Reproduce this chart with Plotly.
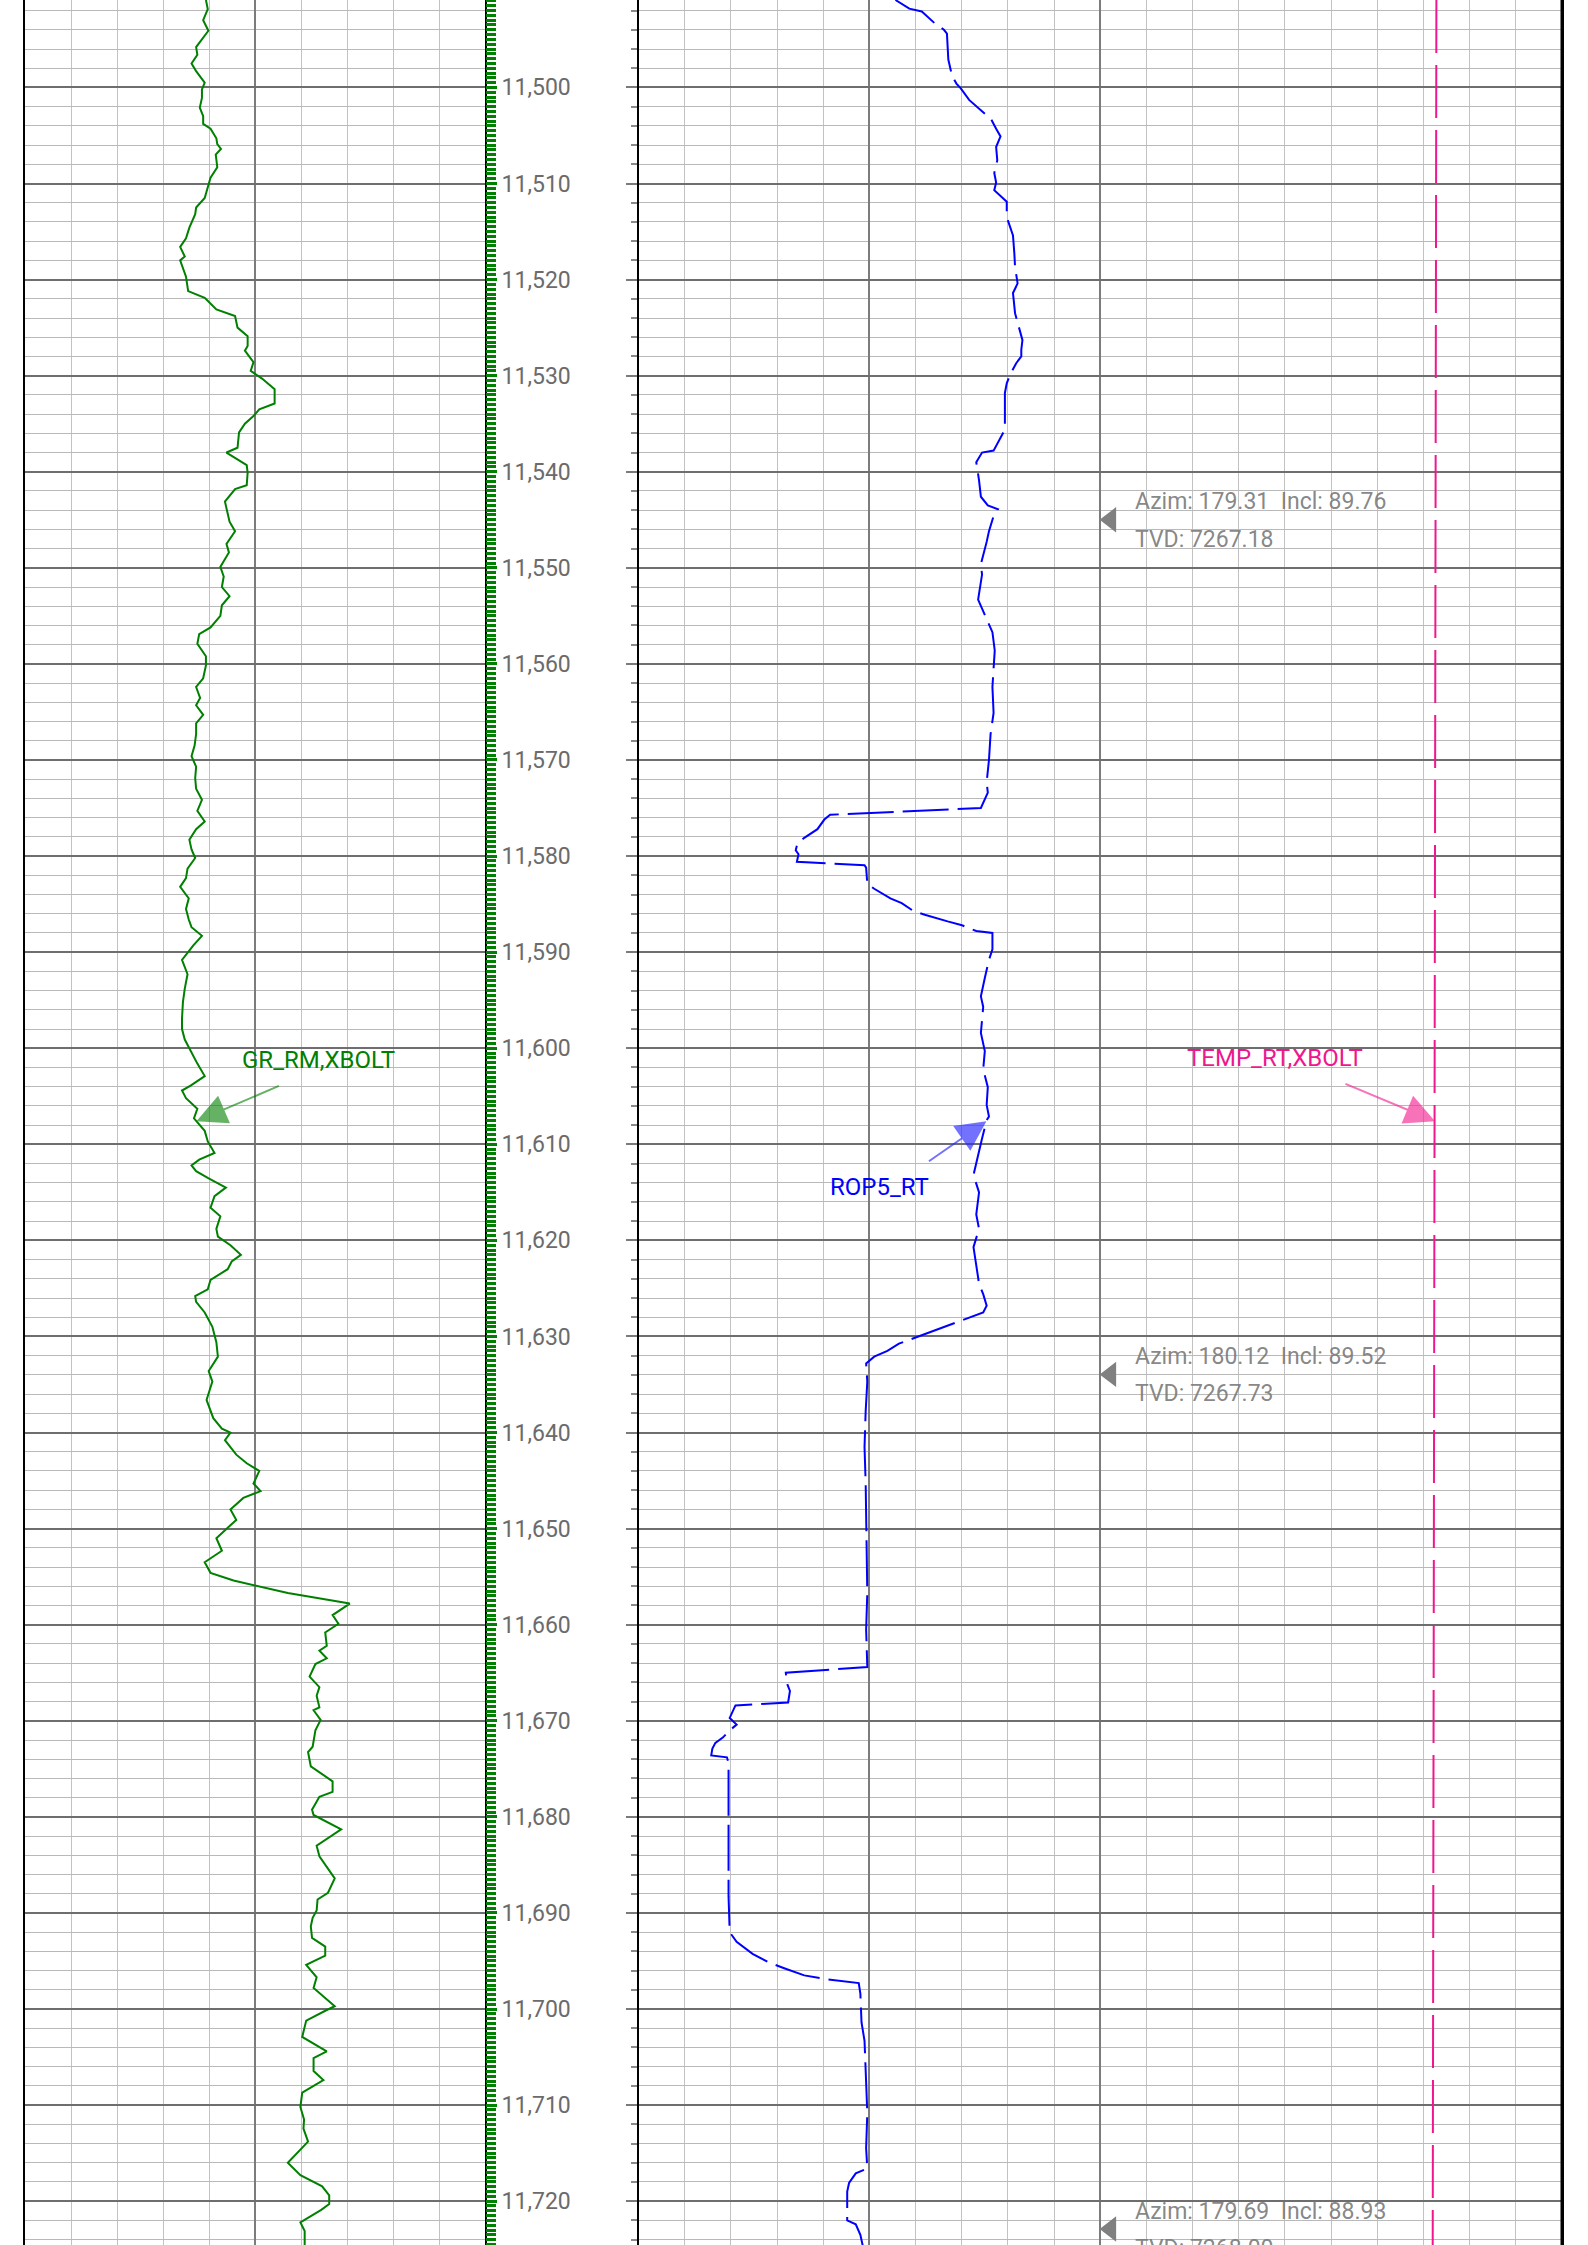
import numpy as np
import plotly.graph_objects as go

# ---------------- data ----------------
GR_DEPTH = [11490.9, 11491.85, 11493.0, 11494.1, 11495.8, 11496.6, 11497.5, 11498.3, 11499.5, 11500.2,
            11501.1, 11502.1, 11503.0, 11503.8, 11504.3, 11505.3, 11505.9, 11506.4, 11507.0, 11508.3,
            11509.4, 11510.0, 11511.5, 11512.5, 11513.2, 11514.6, 11515.7, 11516.6, 11517.6, 11518.0,
            11519.7, 11521.2, 11521.9, 11522.3, 11523.1, 11523.8, 11525.0, 11525.9, 11526.9, 11527.4,
            11528.6, 11529.5, 11529.9, 11530.3, 11531.4, 11532.9, 11533.5, 11534.2, 11535.0, 11535.9,
            11537.5, 11538.0, 11539.3, 11540.1, 11541.4, 11541.8, 11543.1, 11544.3, 11545.2, 11546.2,
            11547.5, 11548.4, 11549.9, 11550.9, 11552.0, 11552.95, 11553.9, 11555.0, 11556.2, 11556.9,
            11557.9, 11559.2, 11560.15, 11561.5, 11562.4, 11563.55, 11564.3, 11565.3, 11566.2, 11567.3,
            11568.5, 11569.6, 11570.7, 11571.9, 11573.0, 11574.15, 11575.3, 11576.4, 11577.2, 11578.3,
            11579.3, 11580.2, 11581.3, 11582.3, 11583.2, 11584.4, 11585.5, 11586.6, 11587.4, 11588.3,
            11589.3, 11590.8, 11592.3, 11593.8, 11595.2, 11596.9, 11598.0, 11599.1, 11600.3, 11601.6,
            11602.9, 11603.9, 11604.4, 11605.2, 11606.3, 11607.3, 11608.6, 11609.7, 11610.9, 11611.6,
            11612.2, 11612.8, 11613.5, 11614.5, 11615.4, 11616.6, 11617.5, 11618.3, 11618.8, 11619.6,
            11620.5, 11621.5, 11622.2, 11623.0, 11623.6, 11624.1, 11625.1, 11625.8, 11626.4, 11627.5,
            11629.0, 11630.6, 11632.1, 11633.6, 11634.7, 11636.6, 11638.5, 11639.6, 11640.0, 11640.8,
            11642.3, 11643.2, 11644.0, 11645.3, 11646.1, 11646.8, 11648.0, 11649.1, 11649.9, 11651.0,
            11652.3, 11653.5, 11654.6, 11655.4, 11656.7, 11657.8, 11659.0, 11659.9, 11660.8, 11662.2,
            11662.7, 11663.5, 11664.1, 11665.4, 11666.5, 11667.4, 11668.6, 11668.9, 11669.9, 11671.0,
            11672.7, 11673.25, 11674.75, 11676.3, 11677.4, 11677.9, 11679.25, 11679.8, 11681.3, 11681.9,
            11683.0, 11684.1, 11685.6, 11686.4, 11687.9, 11688.6, 11689.75, 11690.5, 11691.4, 11692.6,
            11693.5, 11694.45, 11695.4, 11696.7, 11697.8, 11698.8, 11699.7, 11700.1, 11701.2, 11702.9,
            11704.4, 11705.1, 11706.45, 11707.4, 11708.7, 11710.2, 11711.5, 11712.45, 11713.8, 11716.0,
            11717.3, 11718.45, 11719.4, 11720.3, 11720.9, 11722.2, 11723.1, 11724.6]
GR_API = [59.0, 59.6, 58.1, 59.8, 55.8, 56.2, 54.3, 55.8, 58.6, 57.7,
          57.7, 57.0, 58.1, 58.1, 60.5, 62.4, 62.7, 63.9, 62.2, 62.7,
          60.5, 59.9, 58.6, 55.8, 55.5, 53.6, 52.5, 50.6, 52.1, 50.6,
          52.5, 53.2, 58.6, 59.9, 62.4, 68.5, 69.3, 72.6, 72.6, 71.7,
          74.5, 73.6, 75.4, 77.3, 81.4, 81.4, 76.4, 74.5, 71.7, 69.8,
          69.3, 65.7, 72.3, 72.6, 72.3, 68.5, 65.2, 66.1, 66.7, 68.5,
          65.7, 66.5, 63.7, 64.8, 64.2, 66.7, 64.2, 63.7, 60.5, 56.8,
          56.2, 59.0, 59.0, 58.1, 55.8, 57.1, 55.8, 58.1, 55.8, 55.8,
          55.3, 54.3, 55.8, 55.5, 55.8, 57.7, 56.2, 58.6, 55.8, 53.6,
          54.3, 55.5, 53.0, 52.5, 50.6, 53.4, 52.5, 53.4, 54.3, 57.7,
          54.9, 51.2, 53.0, 52.1, 51.5, 51.2, 51.2, 52.1, 54.0, 56.2,
          58.6, 54.0, 51.2, 52.5, 56.2, 55.1, 58.6, 59.6, 61.8, 56.8,
          54.3, 55.8, 59.6, 65.5, 61.8, 60.5, 63.7, 62.9, 62.4, 62.9,
          67.0, 70.4, 67.4, 66.1, 62.9, 60.5, 59.6, 55.5, 55.8, 58.6,
          61.1, 62.4, 62.9, 59.9, 61.1, 59.2, 61.4, 64.2, 67.0, 65.2,
          68.9, 72.3, 76.4, 74.5, 76.8, 71.2, 67.0, 68.9, 66.1, 62.4,
          64.2, 58.6, 60.5, 68.0, 85.7, 105.9, 100.3, 102.2, 97.9, 98.4,
          96.0, 98.4, 94.7, 92.8, 96.0, 95.1, 96.0, 94.1, 96.4, 94.7,
          93.8, 92.3, 93.2, 100.3, 100.3, 96.0, 93.6, 94.1, 103.1, 100.3,
          95.1, 96.0, 99.2, 101.0, 98.8, 95.4, 95.1, 93.8, 93.2, 93.6,
          97.9, 97.9, 91.7, 95.1, 94.1, 97.9, 101.0, 98.4, 91.7, 90.4,
          98.4, 94.1, 94.1, 97.3, 90.4, 89.8, 91.0, 90.8, 92.3, 85.7,
          89.8, 96.9, 99.2, 99.2, 96.6, 89.8, 91.2, 91.2]

ROP_DEPTH = [11490.9, 11491.8, 11492.1, 11493.3, 11494.0, 11494.4, 11497.1, 11498.8, 11499.6, 11500.1,
             11501.3, 11503.3, 11504.3, 11505.1, 11506.2, 11507.6, 11508.9, 11509.9, 11510.7, 11511.9,
             11513.5, 11514.5, 11515.4, 11517.3, 11518.7, 11520.4, 11521.4, 11523.5, 11525.3, 11526.3,
             11527.3, 11528.0, 11528.7, 11529.9, 11530.8, 11531.8, 11535.6, 11537.8, 11538.0, 11539.0,
             11540.9, 11542.6, 11543.5, 11543.9, 11544.6, 11546.2, 11547.3, 11549.6, 11550.7, 11553.3,
             11554.9, 11556.7, 11558.6, 11560.15, 11562.4, 11565.1, 11567.3, 11570.0, 11572.3, 11573.4,
             11574.15, 11575.0, 11575.7, 11576.2, 11577.2, 11578.1, 11578.7, 11579.4, 11579.8, 11580.6,
             11580.96, 11581.2, 11582.9, 11583.4, 11584.4, 11584.9, 11585.7, 11586.1, 11586.8, 11587.2,
             11587.8, 11588.0, 11589.7, 11590.8, 11592.7, 11594.6, 11595.7, 11598.4, 11600.3, 11602.2,
             11604.05, 11605.9, 11607.1, 11607.5, 11609.4, 11611.3, 11613.2, 11615.0, 11617.3, 11618.8,
             11620.7, 11622.6, 11624.5, 11625.6, 11626.8, 11627.5, 11629.0, 11630.2, 11630.75, 11631.5,
             11632.1, 11632.8, 11634.7, 11637.75, 11641.5, 11645.3, 11649.1, 11652.9, 11656.7, 11660.5,
             11663.1, 11664.4, 11665.0, 11666.1, 11666.9, 11668.1, 11668.4, 11669.1, 11669.7, 11670.4,
             11671.0, 11671.75, 11672.3, 11672.9, 11673.6, 11673.8, 11674.4, 11680.75, 11688.25, 11692.0,
             11693.0, 11694.25, 11695.2, 11695.75, 11696.5, 11696.9, 11697.3, 11698.4, 11701.4, 11703.3,
             11707.0, 11710.8, 11714.5, 11716.6, 11717.1, 11718.1, 11719.0, 11720.9, 11722.0, 11722.4,
             11723.5, 11724.6]
ROP5_RT = [111.3, 117.3, 122.7, 128.2, 132.3, 133.6, 134.2, 135.8, 137.7, 139.6,
           143.2, 152.7, 154.9, 156.8, 154.9, 155.4, 154.1, 154.9, 154.1, 159.5,
           159.5, 160.9, 162.2, 162.8, 163.1, 164.2, 162.2, 163.1, 165.0, 166.3,
           165.8, 165.8, 163.6, 160.9, 159.5, 158.7, 158.7, 153.8, 148.8, 146.3,
           147.5, 148.3, 151.3, 155.7, 153.8, 151.8, 150.8, 148.3, 148.8, 147.1,
           150.0, 153.3, 154.3, 153.8, 153.3, 153.8, 152.5, 151.8, 150.8, 151.3,
           150.0, 148.3, 83.0, 80.5, 77.5, 71.8, 68.8, 68.1, 69.3, 68.6,
           97.9, 98.6, 99.1, 102.1, 109.1, 114.0, 119.0, 124.0, 133.9, 140.1,
           146.3, 153.3, 153.3, 151.8, 150.0, 148.3, 149.3, 148.3, 150.0, 149.3,
           151.3, 150.8, 151.8, 150.8, 148.8, 147.1, 145.1, 147.5, 146.3, 147.5,
           145.1, 146.3, 147.5, 149.3, 150.8, 149.3, 132.6, 119.0, 112.8, 107.8,
           102.1, 98.6, 99.1, 98.4, 97.9, 98.4, 98.6, 99.1, 99.1, 98.6,
           99.1, 99.1, 63.8, 64.3, 65.6, 64.8, 42.0, 40.7, 39.5, 42.5,
           39.5, 36.5, 33.3, 32.0, 31.5, 38.3, 39.0, 39.0, 39.0, 39.5,
           42.5, 49.4, 56.9, 63.1, 71.8, 81.7, 95.4, 96.1, 96.6, 97.9,
           98.6, 99.1, 98.6, 99.1, 94.1, 91.2, 90.4, 90.4, 90.4, 94.1,
           96.1, 97.1]

TEMP_DEPTH = [11490.9, 11545.0, 11607.6, 11724.6]
TEMP_RT = [172.8, 172.6, 172.5, 172.0]

SURVEY_DEPTH = [11545.0, 11633.95, 11722.9]
SURVEY_AZIM = ["179.31", "180.12", "179.69"]
SURVEY_INCL = ["89.76", "89.52", "88.93"]
SURVEY_TVD = ["7267.18", "7267.73", "7268.00"]

DEPTH_TOP = 11490.9
DEPTH_BOTTOM = 11724.56
CURVE_LABEL_DEPTH = 11607.6

# ---------------- styling ----------------
W, H = 1588, 2245
FONT = "Roboto"
GREEN = "#008000"
BLUE = "#0000ff"
PINK = "#f0178e"
GRID_MAJOR = "#6e6e6e"
GRID_MINOR = "#b9b9b9"
VGRID_MINOR = "#c2c2c2"
VGRID_MAJOR = "#7c7c7c"
NB = "\u00a0"

fig = go.Figure()

fig.add_trace(go.Scatter(x=GR_API, y=GR_DEPTH, xaxis="x", yaxis="y", mode="lines",
                         line=dict(color=GREEN, width=2), name="GR_RM,XBOLT", showlegend=False))
# same GR samples registered on the rug-tick axis (invisible), so that axis is drawn
fig.add_trace(go.Scatter(x=GR_API, y=GR_DEPTH, xaxis="x", yaxis="y3", mode="lines",
                         line=dict(color="rgba(0,0,0,0)", width=0), showlegend=False, hoverinfo="skip"))
fig.add_trace(go.Scatter(x=ROP5_RT, y=ROP_DEPTH, xaxis="x2", yaxis="y2", mode="lines",
                         line=dict(color=BLUE, width=2, dash="46px,9px"), name="ROP5_RT", showlegend=False))
fig.add_trace(go.Scatter(x=TEMP_RT, y=TEMP_DEPTH, xaxis="x3", yaxis="y2", mode="lines",
                         line=dict(color=PINK, width=2, dash="53px,12px"), name="TEMP_RT,XBOLT", showlegend=False))
fig.add_trace(go.Scatter(x=[204.5] * len(SURVEY_DEPTH), y=SURVEY_DEPTH, xaxis="x2", yaxis="y2",
                         mode="markers", marker=dict(symbol="triangle-left", size=22, color="#808080",
                                                      line=dict(width=0)),
                         showlegend=False, hoverinfo="skip"))

yrange = [DEPTH_BOTTOM, DEPTH_TOP]

fig.update_layout(
    width=W, height=H,
    margin=dict(l=0, r=0, t=0, b=0, pad=0),
    paper_bgcolor="white", plot_bgcolor="white",
    font=dict(family=FONT),
    showlegend=False,
    xaxis=dict(domain=[25 / W, 485 / W], range=[0, 150], anchor="y",
               tickmode="linear", tick0=0, dtick=75, showticklabels=False, ticks="",
               showgrid=True, gridcolor=VGRID_MAJOR, gridwidth=1.5, zeroline=False, showline=False,
               minor=dict(tickmode="linear", tick0=0, dtick=15, showgrid=True, gridcolor=VGRID_MINOR,
                          gridwidth=1)),
    xaxis2=dict(domain=[638.5 / W, 1562 / W], range=[0, 400], anchor="y2",
                tickmode="array", tickvals=[100, 200], showticklabels=False, ticks="",
                showgrid=True, gridcolor=VGRID_MAJOR, gridwidth=1.5, zeroline=False, showline=False,
                minor=dict(tickmode="linear", tick0=0, dtick=20, showgrid=True, gridcolor=VGRID_MINOR,
                           gridwidth=1)),
    xaxis3=dict(overlaying="x2", range=[0, 200], anchor="y2", visible=False),
    yaxis=dict(anchor="x", side="right", range=yrange, autorange=False,
               tickmode="linear", tick0=0, dtick=10, tickformat=",d",
               tickfont=dict(family=FONT, size=23, color="#6b6b6b"),
               ticks="outside", ticklen=10, tickwidth=2.5, tickcolor=GREEN,
               showgrid=True, gridcolor=GRID_MAJOR, gridwidth=1.6, zeroline=False,
               showline=True, linecolor="black", linewidth=2, mirror=True,
               minor=dict(tickmode="linear", tick0=0, dtick=2, showgrid=True, gridcolor=GRID_MINOR,
                          gridwidth=1, ticks="")),
    yaxis3=dict(overlaying="y", anchor="x", side="right", range=yrange, autorange=False,
                tickmode="linear", tick0=0, dtick=0.5, ticks="outside", ticklen=10, tickwidth=2.5,
                tickcolor=GREEN, showticklabels=False, showgrid=False, zeroline=False, showline=False),
    yaxis2=dict(anchor="x2", side="left", range=yrange, autorange=False,
                tickmode="linear", tick0=0, dtick=10, showticklabels=False,
                ticks="outside", ticklen=11, tickwidth=2, tickcolor="#7a7a7a",
                showgrid=True, gridcolor=GRID_MAJOR, gridwidth=1.6, zeroline=False,
                showline=True, linecolor="black", linewidth=2, mirror=True,
                minor=dict(tickmode="linear", tick0=0, dtick=2, ticks="outside", ticklen=6,
                           tickwidth=2, tickcolor="#8a8a8a", showgrid=True, gridcolor=GRID_MINOR,
                           gridwidth=1)),
)

# right border of the right track (heavier)
fig.add_shape(type="line", xref="x2 domain", yref="paper", x0=1, x1=1, y0=0, y1=1,
              line=dict(color="black", width=3))

# survey annotations
for d, az, inc, tvd in zip(SURVEY_DEPTH, SURVEY_AZIM, SURVEY_INCL, SURVEY_TVD):
    fig.add_annotation(x=214, y=d, xref="x2", yref="y2", xanchor="left", yanchor="middle",
                       text=f"Azim:{NB}{az}{NB}{NB}Incl:{NB}{inc}", showarrow=False, yshift=18,
                       font=dict(family=FONT, size=23, color="rgba(120,120,120,0.9)"))
    fig.add_annotation(x=214, y=d, xref="x2", yref="y2", xanchor="left", yanchor="middle",
                       text=f"TVD:{NB}{tvd}", showarrow=False, yshift=-19.5,
                       font=dict(family=FONT, size=23, color="rgba(120,120,120,0.9)"))

# curve labels with arrows
gr_tip = float(np.interp(CURVE_LABEL_DEPTH, GR_DEPTH, GR_API))
rop_tip = float(np.interp(CURVE_LABEL_DEPTH, ROP_DEPTH, ROP5_RT))
temp_tip = float(np.interp(CURVE_LABEL_DEPTH, TEMP_DEPTH, TEMP_RT))

labels = [
    ("GR_RM,XBOLT", gr_tip, "x", "y", GREEN, "rgba(0,128,0,0.6)", 122, 61, 84, -36),
    ("ROP5_RT", rop_tip, "x2", "y2", BLUE, "rgba(40,40,255,0.65)", -107, -66, -59, 41),
    ("TEMP_RT,XBOLT", temp_tip, "x3", "y2", PINK, "rgba(245,40,150,0.65)", -160, 63, -91, -38),
]
for text, xv, xr, yr, col, acol, xs, ys, ax, ay in labels:
    fig.add_annotation(x=xv, y=CURVE_LABEL_DEPTH, xref=xr, yref=yr, text=text, showarrow=False,
                       xshift=xs, yshift=ys, font=dict(family=FONT, size=24, color=col))
    fig.add_annotation(x=xv, y=CURVE_LABEL_DEPTH, xref=xr, yref=yr, text="", showarrow=True,
                       ax=ax, ay=ay, arrowcolor=acol, arrowhead=2, arrowsize=3, arrowwidth=2,
                       standoff=0)

fig.write_html("out.html", config={"displayModeBar": False},
               post_script="document.body.style.margin='0';document.body.style.overflow='hidden';")
